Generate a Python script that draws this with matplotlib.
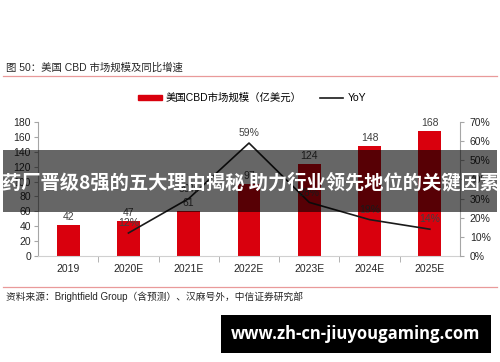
import matplotlib
matplotlib.use("Agg")
import matplotlib.pyplot as plt
from matplotlib.patches import Rectangle
from matplotlib.lines import Line2D
from matplotlib.ticker import PercentFormatter

plt.rcParams['font.family'] = ['Liberation Sans', 'Noto Sans CJK SC', 'DejaVu Sans']

years = ["2019", "2020E", "2021E", "2022E", "2023E", "2024E", "2025E"]
market = [42, 47, 61, 97, 124, 148, 168]
yoy = [None, 12, 30, 59, 28, 19, 14]

bar_red = "#d9000d"
grey_txt = "#404040"
axis_grey = "#a6a6a6"

fig = plt.figure(figsize=(5.0, 3.62), dpi=100)
# plot area in pixels: x 38..460, y 122..256 (from top)
ax = fig.add_axes([38 / 500, (362 - 256) / 362, 422 / 500, 134 / 362])
ax2 = ax.twinx()

x = list(range(len(years)))
bars = ax.bar(x, market, width=0.38, color=bar_red, zorder=2)
for xi, v in zip(x, market):
    ax.text(xi, v + 4, str(v), ha="center", va="bottom", fontsize=7.5, color=grey_txt)

ax.set_xlim(-0.5, len(years) - 0.5)
ax.set_ylim(0, 180)
ax.set_yticks(range(0, 181, 20))
ax.set_xticks(x)
ax.set_xticklabels(years)
ax.set_xticks([i + 0.5 for i in x[:-1]], minor=True)
ax.tick_params(axis="x", which="major", length=0, pad=6, labelsize=7.5, labelcolor="#262626")
ax.tick_params(axis="x", which="minor", length=4, color=axis_grey, direction="out")
ax.tick_params(axis="y", length=3, color=axis_grey, labelsize=7.5, labelcolor="#262626", pad=2)
for s in ["top", "right"]:
    ax.spines[s].set_visible(False)
ax.spines["left"].set_color(axis_grey)
ax.spines["bottom"].set_color("#d0d0d0")

yx = [xi for xi, v in zip(x, yoy) if v is not None]
yv = [v / 100 for v in yoy if v is not None]
ax2.plot(yx, yv, color="#1a1a1a", lw=1.2, zorder=3)
for xi, v in zip(yx, yv):
    ax2.text(xi, v + 0.025, f"{round(v * 100)}%", ha="center", va="bottom",
             fontsize=7.5, color=grey_txt)
ax2.set_ylim(0, 0.7)
ax2.set_yticks([i / 10 for i in range(8)])
ax2.yaxis.set_major_formatter(PercentFormatter(1.0, decimals=0))
ax2.tick_params(axis="y", length=3, color=axis_grey, labelsize=7.5, labelcolor="#262626", pad=4)
for s in ["top", "left", "bottom"]:
    ax2.spines[s].set_visible(False)
ax2.spines["right"].set_color(axis_grey)

handles = [Rectangle((0, 0), 1, 1, color=bar_red), Line2D([0], [0], color="#1a1a1a", lw=1.2)]
fig.legend(handles, ["美国CBD市场规模（亿美元）", "YoY"], loc="center",
           bbox_to_anchor=(252 / 500, (362 - 98) / 362), ncol=2, frameon=False,
           fontsize=7.5, handlelength=2.3, handleheight=0.45, columnspacing=1.7,
           handletextpad=0.4)

# title, rules and source
fig.text(6 / 500, (362 - 68) / 362, "图 50：美国 CBD 市场规模及同比增速", fontsize=7.5,
         color="#262626", va="center", ha="left")
fig.add_artist(Line2D([0.006, 0.994], [(362 - 75.5) / 362] * 2, color="#e99a9a", lw=0.9))
fig.add_artist(Line2D([0.006, 0.994], [(362 - 287) / 362] * 2, color="#e99a9a", lw=0.9))
fig.text(6 / 500, (362 - 297) / 362, "资料来源：Brightfield Group（含预测）、汉麻号外，中信证券研究部",
         fontsize=7, color="#262626", va="center", ha="left")

# overlay banner
fig.patches.append(Rectangle((3 / 500, (362 - 212) / 362), 494 / 500, 62 / 362,
                             transform=fig.transFigure, facecolor="black", alpha=0.6,
                             edgecolor="none", zorder=10))
fig.text(0.5, (362 - 183) / 362, "药厂晋级8强的五大理由揭秘 助力行业领先地位的关键因素",
         fontsize=13.9, fontweight="bold", color="white", ha="center", va="center",
         family=["Noto Sans CJK SC", "DejaVu Sans"], zorder=11)

# watermark box
fig.patches.append(Rectangle((221 / 500, (362 - 353) / 362), 270 / 500, 38 / 362,
                             transform=fig.transFigure, facecolor="black",
                             edgecolor="none", zorder=10))
fig.text(356 / 500, (362 - 334) / 362, "www.zh-cn-jiuyougaming.com", fontsize=12,
         fontweight="bold", color="white", ha="center", va="center",
         family=["Open Sans", "DejaVu Sans"], zorder=11)

fig.savefig("out.png", dpi=100)
